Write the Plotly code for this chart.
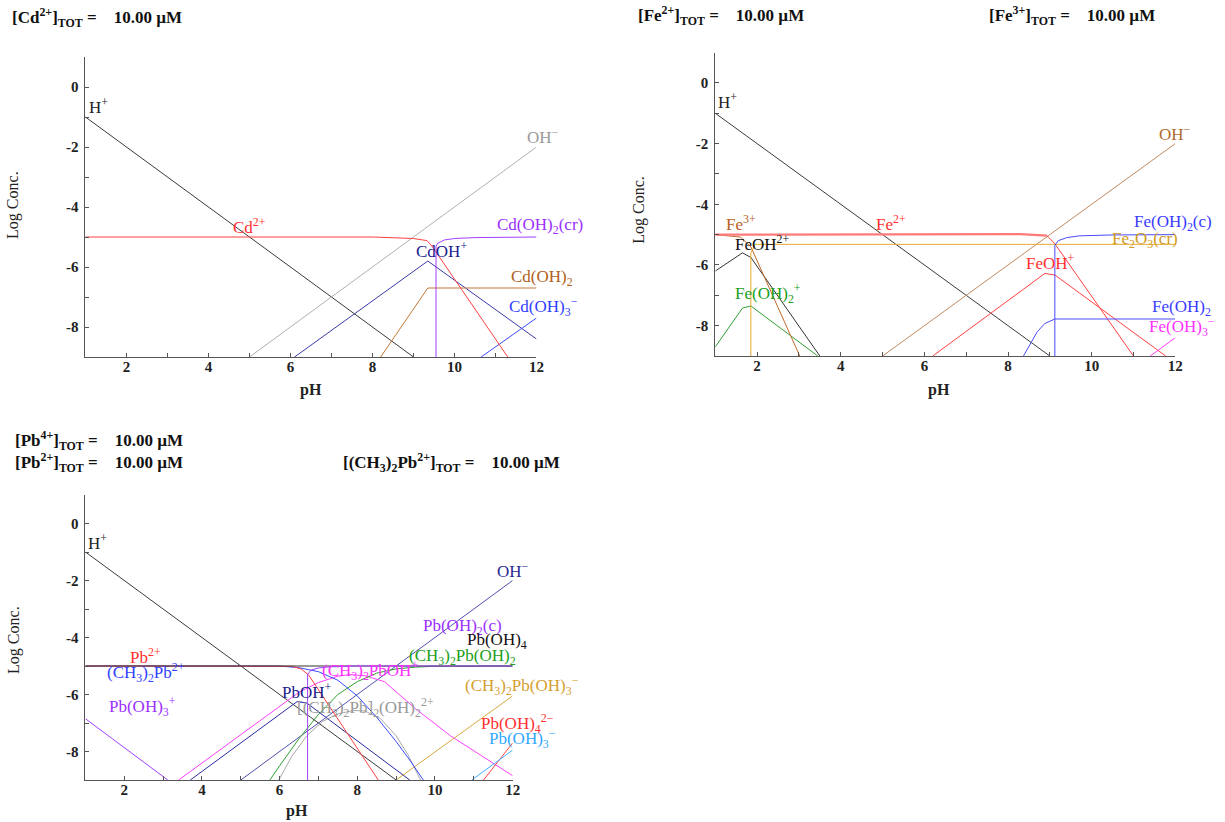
import plotly.graph_objects as go

# ---------------- Panel 1 : Cd ----------------
cd_h_ph = [1, 9]
cd_h_log = [-1, -9]
cd_oh_ph = [5, 12]
cd_oh_log = [-9, -2]
cd2_ph = [1, 8.0, 9.0, 9.33, 9.45, 9.55, 11.3]
cd2_log = [-5.0, -5.0, -5.05, -5.12, -5.3, -5.5, -9.0]
cdoh_ph = [6.1, 9.35, 12]
cdoh_log = [-9.0, -5.8, -8.4]
cdoh2aq_ph = [8.2, 9.35, 12]
cdoh2aq_log = [-9.0, -6.7, -6.7]
cdoh2cr_ph = [9.55, 9.55, 9.6, 9.75, 10.0, 10.5, 12]
cdoh2cr_log = [-9.0, -5.3, -5.2, -5.1, -5.05, -5.02, -5.0]
cdoh3_ph = [10.65, 12]
cdoh3_log = [-9.0, -7.7]

# ---------------- Panel 2 : Fe ----------------
fe_h_ph = [1, 9]
fe_h_log = [-1, -9]
fe_oh_ph = [5, 12]
fe_oh_log = [-9, -2]
fe2_ph = [1, 8.3, 8.93, 9.12, 11.0]
fe2_log = [-5.0, -4.98, -5.03, -5.3, -9.0]
fe3_ph = [1, 1.6, 1.85, 3.02]
fe3_log = [-5.0, -5.08, -5.4, -9.0]
feoh2_ph = [1, 1.65, 1.85, 3.5]
feoh2_log = [-6.2, -5.6, -5.75, -9.0]
feoh2p_ph = [1, 1.65, 1.85, 3.45]
feoh2p_log = [-8.7, -7.42, -7.35, -9.0]
fe2o3_ph = [1.85, 1.85, 1.95, 12]
fe2o3_log = [-9.0, -5.6, -5.32, -5.32]
feohp_ph = [6.2, 8.88, 9.12, 11.77]
feohp_log = [-9.0, -6.28, -6.33, -9.0]
feoh2c_ph = [9.12, 9.12, 9.2, 9.4, 9.7, 10.5, 12]
feoh2c_log = [-9.0, -5.35, -5.2, -5.1, -5.04, -5.01, -5.0]
feoh2aq_ph = [8.37, 8.7, 8.88, 9.12, 12]
feoh2aq_log = [-9.0, -8.2, -7.93, -7.78, -7.78]
feoh3_ph = [11.4, 12]
feoh3_log = [-9.0, -8.4]

# ---------------- Panel 3 : Pb ----------------
pb_h_ph = [1, 9]
pb_h_log = [-1, -9]
pb_oh_ph = [5, 12]
pb_oh_log = [-9, -2]
pboh4_ph = [1, 12]
pboh4_log = [-5.0, -5.0]
me2pb_ph = [1, 6.0, 6.5, 7.0, 7.5, 8.0, 8.5, 9.0, 9.35, 9.7]
me2pb_log = [-5.0, -5.0, -5.06, -5.2, -5.5, -6.05, -6.8, -7.65, -8.3, -9.0]
pb2_ph = [1, 6.3, 6.55, 6.75, 8.54]
pb2_log = [-5.0, -5.01, -5.1, -5.32, -9.0]
pboh3p_ph = [1, 3.12]
pboh3p_log = [-6.85, -9.0]
pbohp_ph = [3.7, 6.45, 6.7, 9.35]
pbohp_log = [-9.0, -6.25, -6.3, -9.0]
me2pboh_ph = [3.4, 5.2, 6.0, 6.5, 7.0, 7.5, 7.8, 8.2, 8.7, 9.5, 10.4, 12]
me2pboh_log = [-9.0, -7.2, -6.4, -5.92, -5.58, -5.36, -5.3, -5.34, -5.55, -6.5, -7.45, -8.85]
me2pboh2_ph = [5.75, 6.0, 6.5, 7.0, 7.5, 8.0, 8.5, 9.0, 9.5, 10.0, 12]
me2pboh2_log = [-9.0, -8.5, -7.55, -6.7, -6.0, -5.55, -5.25, -5.1, -5.04, -5.01, -5.0]
dimer_ph = [5.98, 6.3, 6.7, 7.1, 7.5, 7.9, 8.2, 8.6, 9.0, 9.3, 9.63]
dimer_log = [-9.0, -8.2, -7.45, -6.95, -6.68, -6.56, -6.58, -6.85, -7.45, -8.1, -9.0]
pboh2c_ph = [6.72, 6.72, 6.8, 7.0, 7.3, 8.0, 12]
pboh2c_log = [-9.0, -5.3, -5.15, -5.07, -5.03, -5.0, -5.0]
me2pboh3_ph = [9.0, 12]
me2pboh3_log = [-9.0, -6.05]
pboh4m_ph = [11.25, 12]
pboh4m_log = [-9.0, -7.7]
pboh3m_ph = [10.95, 12]
pboh3m_log = [-9.0, -7.95]

# axis tick labels
x_tickvals = [2, 4, 6, 8, 10, 12]
x_ticktext = ["2", "4", "6", "8", "10", "12"]
y_tickvals = [-8, -6, -4, -2, 0]
y_ticktext = ["-8", "-6", "-4", "-2", "0"]
X_RANGE = [1, 12]
Y_RANGE = [-9, 1]

SERIF = "Liberation Serif"
fig = go.Figure()


def add(ph, lg, color, ax, width=1.0):
    fig.add_trace(go.Scatter(
        x=ph, y=lg, mode="lines", line=dict(color=color, width=width),
        xaxis="x" + ax, yaxis="y" + ax, hoverinfo="skip", showlegend=False))


# Panel 1 traces
add(cd_h_ph, cd_h_log, "#3a3a3a", "")
add(cd_oh_ph, cd_oh_log, "#b0b0b0", "")
add(cdoh_ph, cdoh_log, "#3a3aa8", "")
add(cdoh2aq_ph, cdoh2aq_log, "#c07838", "")
add(cdoh3_ph, cdoh3_log, "#3a4cff", "")
add(cd2_ph, cd2_log, "#ff4040", "")
add(cdoh2cr_ph, cdoh2cr_log, "#a040ff", "")

# Panel 2 traces
add(fe_h_ph, fe_h_log, "#3a3a3a", "2")
add(fe_oh_ph, fe_oh_log, "#c08a60", "2")
add(feoh2p_ph, feoh2p_log, "#30a030", "2")
add(feoh2_ph, feoh2_log, "#333333", "2")
add(fe3_ph, fe3_log, "#c06a2a", "2")
add(fe2o3_ph, fe2o3_log, "#e8a830", "2")
add(feohp_ph, feohp_log, "#ff4040", "2")
add(fe2_ph[:3], fe2_log[:3], "#ff7a7a", "2", 2.2)
add(fe2_ph[2:], fe2_log[2:], "#ff4040", "2")
add(feoh2aq_ph, feoh2aq_log, "#4a4aff", "2")
add(feoh2c_ph, feoh2c_log, "#4a4aff", "2")
add(feoh3_ph, feoh3_log, "#ff40ff", "2")

# Panel 3 traces
add(pb_h_ph, pb_h_log, "#3a3a3a", "3")
add(pb_oh_ph, pb_oh_log, "#5050b0", "3")
add(pboh3p_ph, pboh3p_log, "#a040ff", "3")
add(me2pboh_ph, me2pboh_log, "#ff40ff", "3")
add(pbohp_ph, pbohp_log, "#2a2aa0", "3")
add(me2pboh2_ph, me2pboh2_log, "#30a030", "3")
add(dimer_ph, dimer_log, "#a8a8a8", "3")
add(me2pboh3_ph, me2pboh3_log, "#d8a840", "3")
add(pboh4m_ph, pboh4m_log, "#ff4040", "3")
add(pboh3m_ph, pboh3m_log, "#40b0ff", "3")
add(me2pb_ph, me2pb_log, "#3a4cff", "3")
add(pb2_ph, pb2_log, "#ff4040", "3")
add(pboh4_ph, pboh4_log, "#333333", "3")
add(pboh2c_ph, pboh2c_log, "#a040ff", "3")


def xaxis(domain, anchor):
    return dict(domain=domain, anchor=anchor, range=X_RANGE, showgrid=False, zeroline=False,
                showline=True, linecolor="#555555", linewidth=1,
                tickmode="array", tickvals=x_tickvals, ticktext=["<b>%s</b>" % t for t in x_ticktext],
                ticks="inside", ticklen=4, tickcolor="#555555",
                minor=dict(tickmode="linear", tick0=1, dtick=1, ticks="inside", ticklen=4, tickcolor="#555555"),
                tickfont=dict(family=SERIF, size=15, color="#222222"), ticklabelstandoff=-4)


def yaxis(domain, anchor):
    return dict(domain=domain, anchor=anchor, range=Y_RANGE, showgrid=False, zeroline=False,
                showline=True, linecolor="#555555", linewidth=1,
                tickmode="array", tickvals=y_tickvals, ticktext=["<b>%s</b>" % t for t in y_ticktext],
                ticks="inside", ticklen=4, tickcolor="#555555",
                minor=dict(tickmode="linear", tick0=0, dtick=1, ticks="inside", ticklen=4, tickcolor="#555555"),
                tickfont=dict(family=SERIF, size=15, color="#222222"), ticklabelstandoff=3)


W, H = 1225, 822
DOM = {
    "": ([86 / W, 540 / W], [1 - 357 / H, 1 - 57 / H]),
    "2": ([720 / W, 1183 / W], [1 - 356 / H, 1 - 52.6 / H]),
    "3": ([86 / W, 516 / W], [1 - 780 / H, 1 - 495 / H]),
}

fig.update_layout(
    width=W, height=H, margin=dict(l=0, r=0, t=0, b=0),
    paper_bgcolor="white", plot_bgcolor="white", showlegend=False,
    font=dict(family=SERIF, size=17),
    xaxis=xaxis(DOM[""][0], "y"), yaxis=yaxis(DOM[""][1], "x"),
    xaxis2=xaxis(DOM["2"][0], "y2"), yaxis2=yaxis(DOM["2"][1], "x2"),
    xaxis3=xaxis(DOM["3"][0], "y3"), yaxis3=yaxis(DOM["3"][1], "x3"),
)

anns = []


def lab(text, ph, lg, color, ax, size=17):
    # labels may sit beyond the axis range, so place them in paper space via the axis mapping
    (x0, x1), (y0, y1) = DOM[ax]
    px = x0 + (ph - X_RANGE[0]) / (X_RANGE[1] - X_RANGE[0]) * (x1 - x0)
    py = y0 + (lg - Y_RANGE[0]) / (Y_RANGE[1] - Y_RANGE[0]) * (y1 - y0)
    anns.append(dict(text=text, x=px, y=py, xref="paper", yref="paper", showarrow=False,
                     font=dict(family=SERIF, size=size, color=color), xanchor="center", yanchor="middle"))


# Panel 1 labels
lab("H<sup>+</sup>", 1.32, -0.62, "#222222", "")
lab("Cd<sup>2+</sup>", 5.0, -4.62, "#ff3030", "")
lab("OH<sup>−</sup>", 12.15, -1.62, "#999999", "")
lab("Cd(OH)<sub>2</sub>(cr)", 12.08, -4.62, "#9b30ff", "")
lab("CdOH<sup>+</sup>", 9.68, -5.42, "#202090", "")
lab("Cd(OH)<sub>2</sub>", 12.13, -6.37, "#b0601c", "")
lab("Cd(OH)<sub>3</sub><sup>−</sup>", 12.17, -7.3, "#3040ff", "")

# Panel 2 labels
lab("H<sup>+</sup>", 1.3, -0.6, "#222222", "2")
lab("OH<sup>−</sup>", 12.0, -1.64, "#b06a30", "2")
lab("Fe<sup>3+</sup>", 1.62, -4.6, "#b8601c", "2")
lab("Fe<sup>2+</sup>", 5.2, -4.6, "#ff3030", "2")
lab("FeOH<sup>2+</sup>", 2.12, -5.26, "#111111", "2")
lab("Fe(OH)<sub>2</sub><sup>+</sup>", 2.25, -6.93, "#20a020", "2")
lab("Fe(OH)<sub>2</sub>(c)", 11.95, -4.6, "#3a3aff", "2")
lab("Fe<sub>2</sub>O<sub>3</sub>(cr)", 11.27, -5.17, "#d09a20", "2")
lab("FeOH<sup>+</sup>", 9.02, -5.9, "#ff3030", "2")
lab("Fe(OH)<sub>2</sub>", 12.14, -7.43, "#3a3aff", "2")
lab("Fe(OH)<sub>3</sub><sup>−</sup>", 12.17, -8.03, "#ff30ff", "2")

# Panel 3 labels
lab("H<sup>+</sup>", 1.32, -0.66, "#222222", "3")
lab("OH<sup>−</sup>", 12.0, -1.64, "#2a2a90", "3")
lab("Pb<sup>2+</sup>", 2.55, -4.64, "#ff3030", "3")
lab("(CH<sub>3</sub>)<sub>2</sub>Pb<sup>2+</sup>", 2.55, -5.22, "#3040ff", "3")
lab("Pb(OH)<sub>3</sub><sup>+</sup>", 2.48, -6.43, "#9b30ff", "3")
lab("PbOH<sup>+</sup>", 6.7, -5.88, "#20208a", "3")
lab("[(CH<sub>3</sub>)<sub>2</sub>Pb]<sub>2</sub>(OH)<sub>2</sub><sup>2+</sup>", 8.2, -6.46, "#999999", "3")
lab("(CH<sub>3</sub>)<sub>2</sub>PbOH<sup>+</sup>", 8.32, -5.17, "#ff30ff", "3")
lab("Pb(OH)<sub>2</sub>(c)", 10.7, -3.62, "#9b30ff", "3")
lab("Pb(OH)<sub>4</sub>", 11.6, -4.13, "#111111", "3")
lab("(CH<sub>3</sub>)<sub>2</sub>Pb(OH)<sub>2</sub>", 10.72, -4.68, "#20a020", "3")
lab("(CH<sub>3</sub>)<sub>2</sub>Pb(OH)<sub>3</sub><sup>−</sup>", 12.25, -5.67, "#d4a030", "3")
lab("Pb(OH)<sub>4</sub><sup>2−</sup>", 12.12, -7.02, "#ff3030", "3")
lab("Pb(OH)<sub>3</sub><sup>−</sup>", 12.25, -7.56, "#30a8ff", "3")

NB = "\u00a0"


def hdr(text, px, py):
    anns.append(dict(text=text, x=px / W, y=1 - py / H, xref="paper", yref="paper", showarrow=False,
                     font=dict(family=SERIF, size=17, color="#111111"), xanchor="left", yanchor="middle"))


hdr("<b>[Cd<sup>2+</sup>]<sub>TOT</sub> =" + NB * 4 + "10.00 µM</b>", 10, 18)
hdr("<b>[Fe<sup>2+</sup>]<sub>TOT</sub> =" + NB * 4 + "10.00 µM</b>", 640, 15)
hdr("<b>[Fe<sup>3+</sup>]<sub>TOT</sub> =" + NB * 4 + "10.00 µM</b>", 993, 15)
hdr("<b>[Pb<sup>4+</sup>]<sub>TOT</sub> =" + NB * 4 + "10.00 µM</b>", 13, 441)
hdr("<b>[Pb<sup>2+</sup>]<sub>TOT</sub> =" + NB * 4 + "10.00 µM</b>", 13, 462)
hdr("<b>[(CH<sub>3</sub>)<sub>2</sub>Pb<sup>2+</sup>]<sub>TOT</sub> =" + NB * 4 + "10.00 µM</b>", 343, 462)


def axtitle(text, px, py, angle=0, bold=False):
    t = "<b>" + text + "</b>" if bold else text
    anns.append(dict(text=t, x=px / W, y=1 - py / H, xref="paper", yref="paper", showarrow=False,
                     textangle=angle, font=dict(family=SERIF, size=16, color="#222222"),
                     xanchor="center", yanchor="middle"))


axtitle("pH", 313, 390, bold=True)
axtitle("pH", 945, 390, bold=True)
axtitle("pH", 299, 811, bold=True)
axtitle("Log Conc.", 13, 205, angle=-90)
axtitle("Log Conc.", 643, 210, angle=-90)
axtitle("Log Conc.", 14, 640, angle=-90)

fig.update_layout(annotations=anns)
fig.write_html("out.html", config={"displayModeBar": False},
               post_script="document.body.style.margin='0px';")
